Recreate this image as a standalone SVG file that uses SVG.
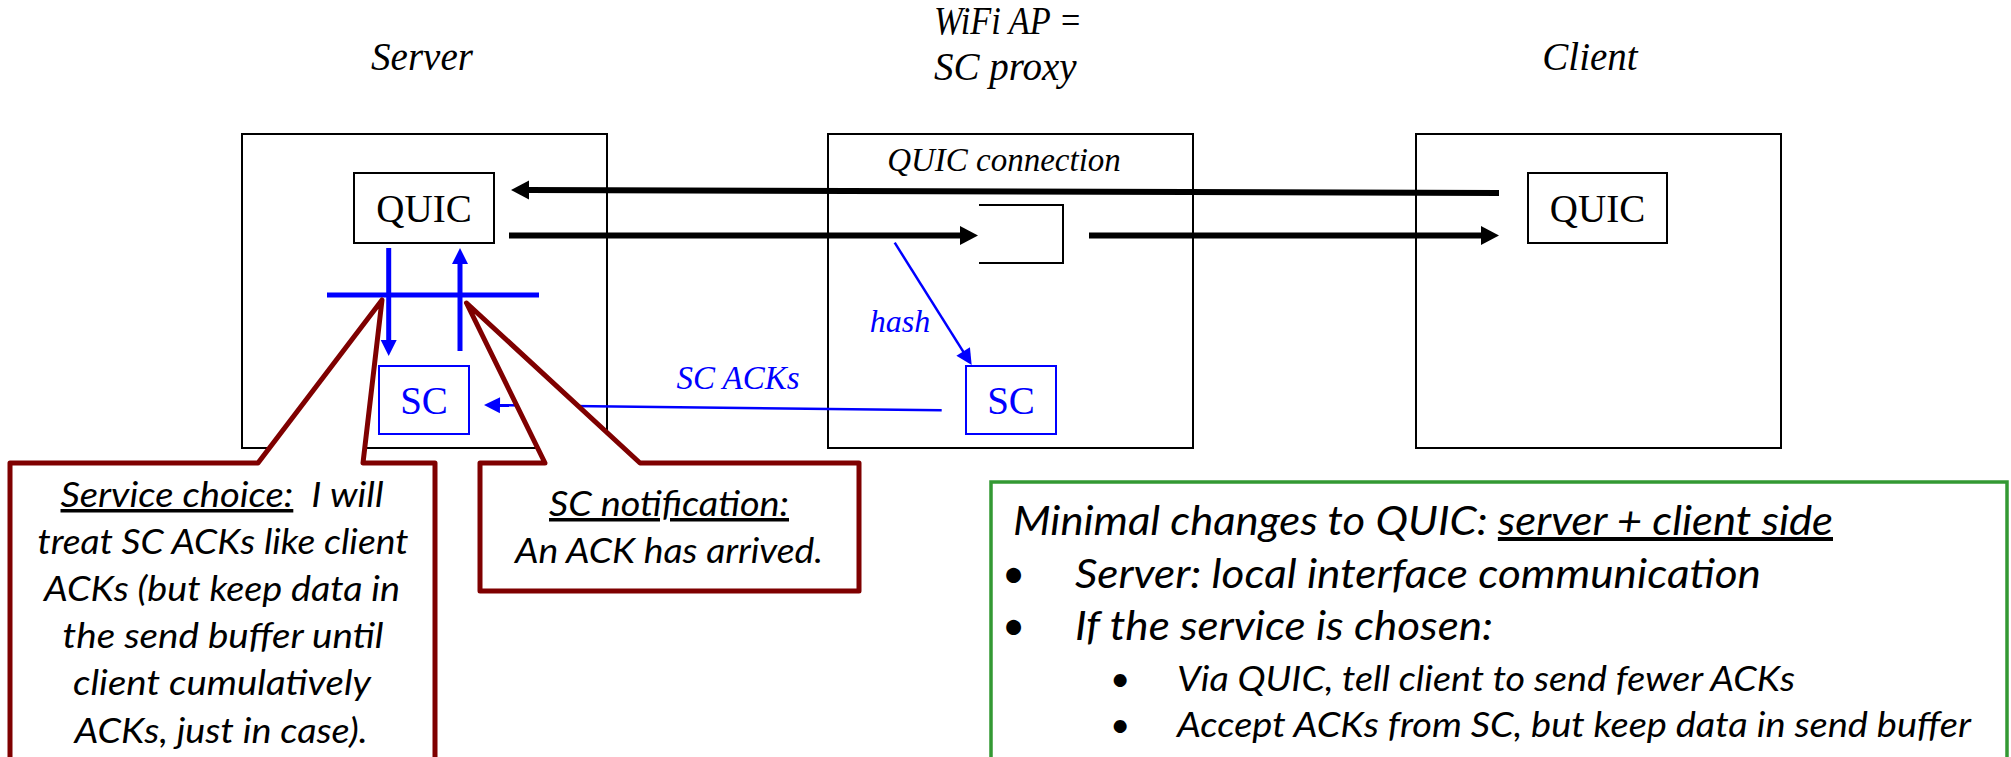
<svg xmlns="http://www.w3.org/2000/svg" width="2011" height="757" viewBox="0 0 2011 757">
  <style>
    .box { fill: #ffffff; stroke: #000000; stroke-width: 2; }
    .bluebox { fill: #ffffff; stroke: #0000ff; stroke-width: 2; }
    .label { font-family: "Liberation Serif", "Times New Roman", serif; font-style: italic; font-size: 39px; fill: #000000; }
    .tag { font-family: "Liberation Serif", "Times New Roman", serif; font-style: italic; fill: #0000ff; text-anchor: middle; }
    .mod { font-family: "Liberation Serif", "Times New Roman", serif; font-size: 39px; fill: #000000; text-anchor: middle; }
    .modblue { font-family: "Liberation Serif", "Times New Roman", serif; font-size: 39px; fill: #0000ff; text-anchor: middle; }
    .note { font-family: Lato, "Open Sans", sans-serif; font-style: italic; fill: #000000; }
    .callout { fill: #ffffff; stroke: #7f0000; stroke-width: 5; stroke-linejoin: round; }
    .flow { fill: none; stroke: #000000; stroke-width: 6; }
    .ctl { fill: none; stroke: #0000ff; stroke-width: 5; }
    .thin { fill: none; stroke: #0000ff; stroke-width: 2.5; }
    .u { text-decoration: underline; }
  </style>
  <defs>
    <marker id="headBlack" markerUnits="userSpaceOnUse" viewBox="0 0 18 20" markerWidth="18" markerHeight="20" refX="1" refY="10" orient="auto" overflow="visible">
      <path d="M0,0.5 L18,10 L0,19.5 Z" fill="#000000"/>
    </marker>
    <marker id="headBlue" markerUnits="userSpaceOnUse" viewBox="0 0 16 16" markerWidth="16" markerHeight="16" refX="1" refY="8" orient="auto" overflow="visible">
      <path d="M0,0 L16,8 L0,16 Z" fill="#0000ff"/>
    </marker>
  </defs>

  <rect width="2011" height="757" fill="#ffffff"/>

  <!-- column titles -->
  <text class="label" x="422" y="70" text-anchor="middle">Server</text>
  <text class="label" x="934" y="34" textLength="148" lengthAdjust="spacingAndGlyphs">WiFi AP =</text>
  <text class="label" x="934" y="80">SC proxy</text>
  <text class="label" x="1590" y="70" text-anchor="middle">Client</text>

  <!-- server host -->
  <g id="server">
    <rect class="box" x="242" y="134" width="365" height="314"/>
  </g>
  <g id="server-quic">
    <rect class="box" x="354" y="173" width="140" height="70"/>
    <text class="mod" x="424" y="222">QUIC</text>
  </g>
  <g id="server-sc">
    <rect class="bluebox" x="379" y="366" width="90" height="68"/>
    <text class="modblue" x="424" y="414">SC</text>
  </g>

  <!-- access point acting as SC proxy -->
  <g id="proxy">
    <rect class="box" x="828" y="134" width="365" height="314"/>
    <text class="label" x="1004" y="171" text-anchor="middle" style="font-size:33px">QUIC connection</text>
    <path d="M979,205 H1063 V263 H979" fill="none" stroke="#000000" stroke-width="2"/>
  </g>
  <g id="proxy-sc">
    <rect class="bluebox" x="966" y="366" width="90" height="68"/>
    <text class="modblue" x="1011" y="414">SC</text>
  </g>

  <!-- client host -->
  <g id="client">
    <rect class="box" x="1416" y="134" width="365" height="314"/>
  </g>
  <g id="client-quic">
    <rect class="box" x="1528" y="173" width="139" height="70"/>
    <text class="mod" x="1597.5" y="222">QUIC</text>
  </g>

  <!-- connectors -->
  <g id="connectors">
    <path class="flow" d="M1499,193 L528,190" marker-end="url(#headBlack)"/>
    <path class="flow" d="M509,235.5 L961,235.5" marker-end="url(#headBlack)"/>
    <path class="flow" d="M1089,235.5 L1482,235.5" marker-end="url(#headBlack)"/>
    <!-- local interface between QUIC and SC -->
    <line class="ctl" x1="327" y1="295" x2="539" y2="295"/>
    <path class="ctl" d="M388.7,248 L388.7,341" marker-end="url(#headBlue)"/>
    <path class="ctl" d="M460,351 L460,263" marker-end="url(#headBlue)"/>
    <!-- hashing packets into the proxy SC -->
    <path class="thin" d="M894.7,242.7 L963.7,352.3" marker-end="url(#headBlue)"/>
    <text class="tag" x="900" y="332" style="font-size:32px">hash</text>
    <!-- SC ACKs back to the server -->
    <path class="thin" d="M941.7,410.3 L499,405.2" marker-end="url(#headBlue)"/>
    <text class="tag" x="738" y="389" style="font-size:33px">SC ACKs</text>
  </g>

  <!-- callout: service choice -->
  <g id="callout-choice">
    <path class="callout" d="M10,463 L258,463 L382,300 L363,463 L435,463 L435,790 L10,790 Z"/>
    <g class="note" font-size="35" text-anchor="middle">
      <text x="222" y="507" textLength="323" lengthAdjust="spacingAndGlyphs"><tspan class="u">Service choice:</tspan>&#160; I will</text>
      <text x="223" y="554" textLength="371" lengthAdjust="spacingAndGlyphs">treat SC ACKs like client</text>
      <text x="222" y="601" textLength="356" lengthAdjust="spacingAndGlyphs">ACKs (but keep data in</text>
      <text x="223" y="648" textLength="321" lengthAdjust="spacingAndGlyphs">the send buffer until</text>
      <text x="222" y="695" textLength="298" lengthAdjust="spacingAndGlyphs">client cumulatively</text>
      <text x="221" y="743" textLength="293" lengthAdjust="spacingAndGlyphs">ACKs, just in case).</text>
    </g>
  </g>

  <!-- callout: SC notification -->
  <g id="callout-notify">
    <path class="callout" d="M480,463 L545,463 L466.5,303 L640,463 L859,463 L859,591 L480,591 Z"/>
    <g class="note" font-size="35" text-anchor="middle">
      <text x="669" y="516" textLength="240" lengthAdjust="spacingAndGlyphs"><tspan class="u">SC notification:</tspan></text>
      <text x="669" y="563" textLength="308" lengthAdjust="spacingAndGlyphs">An ACK has arrived.</text>
    </g>
  </g>

  <!-- summary of required QUIC changes -->
  <g id="summary">
    <rect x="991" y="482" width="1016" height="320" fill="#ffffff" stroke="#339933" stroke-width="3.5"/>
    <g class="note">
      <text x="1013" y="535" font-size="40" textLength="820" lengthAdjust="spacingAndGlyphs">Minimal changes to QUIC: <tspan class="u">server + client side</tspan></text>
      <text x="1002" y="588" font-size="40" font-style="normal">•</text>
      <text x="1075" y="588" font-size="40" textLength="686" lengthAdjust="spacingAndGlyphs">Server: local interface communication</text>
      <text x="1002" y="640" font-size="40" font-style="normal">•</text>
      <text x="1075" y="640" font-size="40" textLength="418" lengthAdjust="spacingAndGlyphs">If the service is chosen:</text>
      <text x="1110" y="691" font-size="35" font-style="normal">•</text>
      <text x="1177" y="691" font-size="35" textLength="618" lengthAdjust="spacingAndGlyphs">Via QUIC, tell client to send fewer ACKs</text>
      <text x="1110" y="737" font-size="35" font-style="normal">•</text>
      <text x="1177" y="737" font-size="35" textLength="794" lengthAdjust="spacingAndGlyphs">Accept ACKs from SC, but keep data in send buffer</text>
    </g>
  </g>
</svg>
